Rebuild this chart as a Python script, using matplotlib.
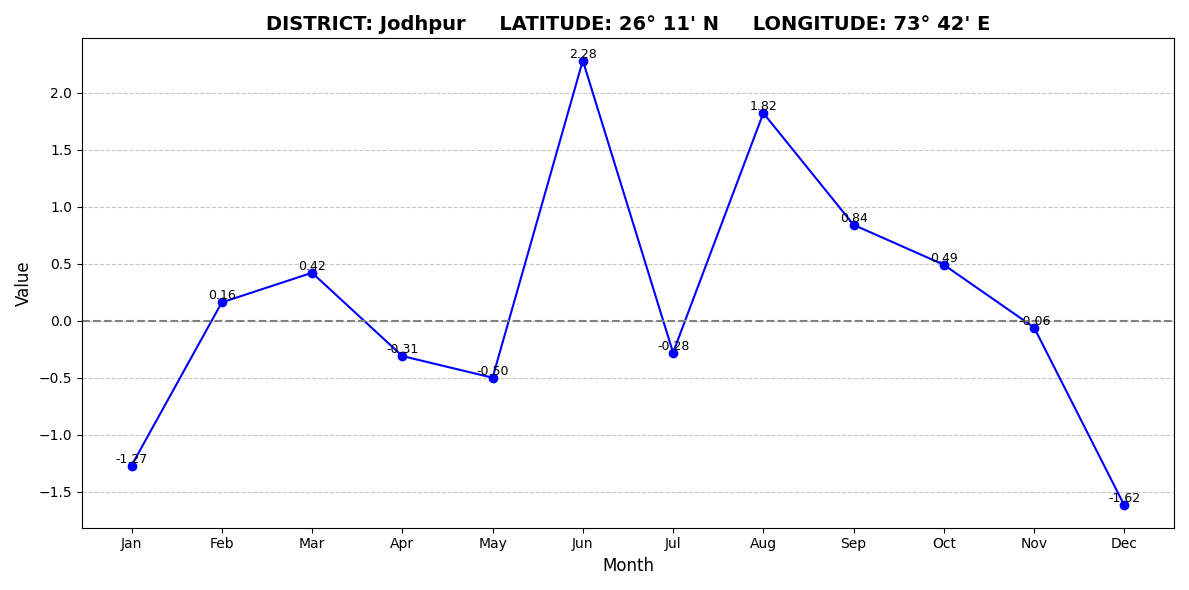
import numpy as np
import matplotlib.pyplot as plt

months = ['Jan', 'Feb', 'Mar', 'Apr', 'May', 'Jun', 'Jul', 'Aug', 'Sep', 'Oct', 'Nov', 'Dec']
values = [-1.27, 0.16, 0.42, -0.31, -0.50, 2.28, -0.28, 1.82, 0.84, 0.49, -0.06, -1.62]

fig, ax = plt.subplots(figsize=(11.89, 5.9), dpi=100)
ax.plot(months, values, marker='o', color='blue')
for m, v in zip(months, values):
    ax.text(m, v, f'{v:.2f}', ha='center', va='bottom', fontsize=9)

ax.axhline(0, color='gray', linestyle='--')
ax.grid(axis='y', linestyle='--', alpha=0.7)
ax.set_title("DISTRICT: Jodhpur     LATITUDE: 26° 11' N     LONGITUDE: 73° 42' E",
             fontsize=14, fontweight='bold')
ax.set_xlabel('Month', fontsize=12)
ax.set_ylabel('Value', fontsize=12)

plt.tight_layout()
plt.savefig('out.png')
